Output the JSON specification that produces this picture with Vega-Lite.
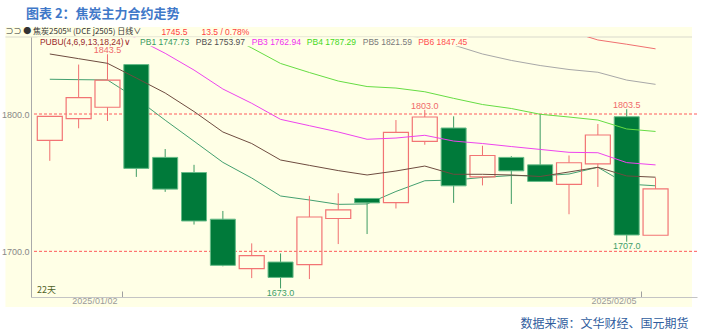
{
  "$schema": "https://vega.github.io/schema/vega-lite/v6.json",
  "width": 666,
  "height": 260,
  "autosize": {"type": "none"},
  "padding": {"left": 31, "top": 37, "right": 6, "bottom": 36},
  "background": "#FFFFFF",
  "title": {"text": "图表 2：焦炭主力合约走势", "anchor": "start", "frame": "group", "dx": -5, "offset": 6, "font": "Noto Sans CJK SC", "fontSize": 13, "fontWeight": "bold", "color": "#3F78C8"},
  "datasets": {
    "candles": [
      {"d": "2024-12-27", "i": 1, "o": 1780.8, "h": 1798.3, "l": 1765.9, "c": 1798.3},
      {"d": "2024-12-30", "i": 2, "o": 1796.6, "h": 1836.0, "l": 1789.6, "c": 1811.9},
      {"d": "2024-12-31", "i": 3, "o": 1804.9, "h": 1843.5, "l": 1794.9, "c": 1824.6},
      {"d": "2025-01-02", "i": 4, "o": 1836.0, "h": 1836.0, "l": 1754.2, "c": 1760.4},
      {"d": "2025-01-03", "i": 5, "o": 1768.4, "h": 1774.5, "l": 1743.3, "c": 1745.3},
      {"d": "2025-01-06", "i": 6, "o": 1757.4, "h": 1763.0, "l": 1719.5, "c": 1722.1},
      {"d": "2025-01-07", "i": 7, "o": 1723.4, "h": 1729.4, "l": 1689.1, "c": 1689.8},
      {"d": "2025-01-08", "i": 8, "o": 1687.4, "h": 1705.8, "l": 1680.5, "c": 1696.9},
      {"d": "2025-01-09", "i": 9, "o": 1692.2, "h": 1698.5, "l": 1673.0, "c": 1681.0},
      {"d": "2025-01-10", "i": 10, "o": 1690.3, "h": 1740.4, "l": 1679.8, "c": 1725.0},
      {"d": "2025-01-13", "i": 11, "o": 1723.9, "h": 1742.3, "l": 1705.3, "c": 1730.2},
      {"d": "2025-01-14", "i": 12, "o": 1738.5, "h": 1738.5, "l": 1712.6, "c": 1735.3},
      {"d": "2025-01-15", "i": 13, "o": 1735.5, "h": 1795.6, "l": 1731.2, "c": 1786.6},
      {"d": "2025-01-16", "i": 14, "o": 1780.1, "h": 1803.0, "l": 1777.6, "c": 1797.8},
      {"d": "2025-01-17", "i": 15, "o": 1789.8, "h": 1798.3, "l": 1735.3, "c": 1747.7},
      {"d": "2025-01-20", "i": 16, "o": 1754.2, "h": 1776.9, "l": 1748.0, "c": 1769.8},
      {"d": "2025-01-21", "i": 17, "o": 1768.4, "h": 1769.3, "l": 1734.5, "c": 1758.6},
      {"d": "2025-01-22", "i": 18, "o": 1763.0, "h": 1800.0, "l": 1750.9, "c": 1750.9},
      {"d": "2025-01-23", "i": 19, "o": 1748.7, "h": 1769.8, "l": 1727.0, "c": 1764.5},
      {"d": "2025-01-24", "i": 20, "o": 1763.7, "h": 1792.7, "l": 1746.9, "c": 1784.7},
      {"d": "2025-01-27", "i": 21, "o": 1798.0, "h": 1803.5, "l": 1707.0, "c": 1711.9},
      {"d": "2025-02-05", "i": 22, "o": 1711.7, "h": 1753.5, "l": 1711.7, "c": 1745.5}
    ],
    "pubu": [
      {"s": "PB1", "i": 1, "v": 1825.3}, {"s": "PB1", "i": 2, "v": 1825.0}, {"s": "PB1", "i": 3, "v": 1824.8}, {"s": "PB1", "i": 4, "v": 1811.4}, {"s": "PB1", "i": 5, "v": 1795.5}, {"s": "PB1", "i": 6, "v": 1780.2}, {"s": "PB1", "i": 7, "v": 1764.8}, {"s": "PB1", "i": 8, "v": 1753.4}, {"s": "PB1", "i": 9, "v": 1740.3}, {"s": "PB1", "i": 10, "v": 1737.4}, {"s": "PB1", "i": 11, "v": 1734.2}, {"s": "PB1", "i": 12, "v": 1734.5}, {"s": "PB1", "i": 13, "v": 1743.6}, {"s": "PB1", "i": 14, "v": 1751.4}, {"s": "PB1", "i": 15, "v": 1751.9}, {"s": "PB1", "i": 16, "v": 1753.8}, {"s": "PB1", "i": 17, "v": 1755.2}, {"s": "PB1", "i": 18, "v": 1754.9}, {"s": "PB1", "i": 19, "v": 1756.3}, {"s": "PB1", "i": 20, "v": 1761.2}, {"s": "PB1", "i": 21, "v": 1749.0}, {"s": "PB1", "i": 22, "v": 1747.73},
      {"s": "PB2", "i": 1, "v": 1843.7}, {"s": "PB2", "i": 2, "v": 1840.3}, {"s": "PB2", "i": 3, "v": 1836.9}, {"s": "PB2", "i": 4, "v": 1826.2}, {"s": "PB2", "i": 5, "v": 1815.3}, {"s": "PB2", "i": 6, "v": 1801.8}, {"s": "PB2", "i": 7, "v": 1786.9}, {"s": "PB2", "i": 8, "v": 1778.5}, {"s": "PB2", "i": 9, "v": 1766.5}, {"s": "PB2", "i": 10, "v": 1762.6}, {"s": "PB2", "i": 11, "v": 1758.8}, {"s": "PB2", "i": 12, "v": 1755.6}, {"s": "PB2", "i": 13, "v": 1758.5}, {"s": "PB2", "i": 14, "v": 1762.1}, {"s": "PB2", "i": 15, "v": 1756.1}, {"s": "PB2", "i": 16, "v": 1756.1}, {"s": "PB2", "i": 17, "v": 1755.6}, {"s": "PB2", "i": 18, "v": 1754.5}, {"s": "PB2", "i": 19, "v": 1757.8}, {"s": "PB2", "i": 20, "v": 1761.2}, {"s": "PB2", "i": 21, "v": 1754.9}, {"s": "PB2", "i": 22, "v": 1753.97},
      {"s": "PB3", "i": 1, "v": 1885.9}, {"s": "PB3", "i": 2, "v": 1875.7}, {"s": "PB3", "i": 3, "v": 1865.5}, {"s": "PB3", "i": 4, "v": 1855.0}, {"s": "PB3", "i": 5, "v": 1844.2}, {"s": "PB3", "i": 6, "v": 1832.0}, {"s": "PB3", "i": 7, "v": 1818.2}, {"s": "PB3", "i": 8, "v": 1807.8}, {"s": "PB3", "i": 9, "v": 1796.1}, {"s": "PB3", "i": 10, "v": 1791.5}, {"s": "PB3", "i": 11, "v": 1786.9}, {"s": "PB3", "i": 12, "v": 1781.6}, {"s": "PB3", "i": 13, "v": 1782.5}, {"s": "PB3", "i": 14, "v": 1784.5}, {"s": "PB3", "i": 15, "v": 1780.3}, {"s": "PB3", "i": 16, "v": 1778.5}, {"s": "PB3", "i": 17, "v": 1776.3}, {"s": "PB3", "i": 18, "v": 1774.2}, {"s": "PB3", "i": 19, "v": 1772.1}, {"s": "PB3", "i": 20, "v": 1771.8}, {"s": "PB3", "i": 21, "v": 1764.6}, {"s": "PB3", "i": 22, "v": 1762.94},
      {"s": "PB4", "i": 1, "v": 1919.4}, {"s": "PB4", "i": 2, "v": 1910.7}, {"s": "PB4", "i": 3, "v": 1901.2}, {"s": "PB4", "i": 4, "v": 1891.7}, {"s": "PB4", "i": 5, "v": 1880.8}, {"s": "PB4", "i": 6, "v": 1869.9}, {"s": "PB4", "i": 7, "v": 1858.9}, {"s": "PB4", "i": 8, "v": 1848.1}, {"s": "PB4", "i": 9, "v": 1836.8}, {"s": "PB4", "i": 10, "v": 1830.2}, {"s": "PB4", "i": 11, "v": 1824.0}, {"s": "PB4", "i": 12, "v": 1820.0}, {"s": "PB4", "i": 13, "v": 1818.9}, {"s": "PB4", "i": 14, "v": 1816.2}, {"s": "PB4", "i": 15, "v": 1811.4}, {"s": "PB4", "i": 16, "v": 1806.9}, {"s": "PB4", "i": 17, "v": 1804.0}, {"s": "PB4", "i": 18, "v": 1799.8}, {"s": "PB4", "i": 19, "v": 1797.8}, {"s": "PB4", "i": 20, "v": 1795.6}, {"s": "PB4", "i": 21, "v": 1789.1}, {"s": "PB4", "i": 22, "v": 1787.29},
      {"s": "PB5", "i": 1, "v": 1935.4}, {"s": "PB5", "i": 2, "v": 1930.3}, {"s": "PB5", "i": 3, "v": 1924.5}, {"s": "PB5", "i": 4, "v": 1918.0}, {"s": "PB5", "i": 5, "v": 1910.0}, {"s": "PB5", "i": 6, "v": 1901.9}, {"s": "PB5", "i": 7, "v": 1893.9}, {"s": "PB5", "i": 8, "v": 1886.7}, {"s": "PB5", "i": 9, "v": 1880.1}, {"s": "PB5", "i": 10, "v": 1874.3}, {"s": "PB5", "i": 11, "v": 1869.2}, {"s": "PB5", "i": 12, "v": 1864.1}, {"s": "PB5", "i": 13, "v": 1859.0}, {"s": "PB5", "i": 14, "v": 1854.6}, {"s": "PB5", "i": 15, "v": 1850.2}, {"s": "PB5", "i": 16, "v": 1843.7}, {"s": "PB5", "i": 17, "v": 1839.0}, {"s": "PB5", "i": 18, "v": 1835.3}, {"s": "PB5", "i": 19, "v": 1832.4}, {"s": "PB5", "i": 20, "v": 1830.4}, {"s": "PB5", "i": 21, "v": 1824.7}, {"s": "PB5", "i": 22, "v": 1821.59},
      {"s": "PB6", "i": 1, "v": 1941.3}, {"s": "PB6", "i": 2, "v": 1937.6}, {"s": "PB6", "i": 3, "v": 1934.0}, {"s": "PB6", "i": 4, "v": 1929.6}, {"s": "PB6", "i": 5, "v": 1923.8}, {"s": "PB6", "i": 6, "v": 1918.0}, {"s": "PB6", "i": 7, "v": 1912.2}, {"s": "PB6", "i": 8, "v": 1906.3}, {"s": "PB6", "i": 9, "v": 1901.2}, {"s": "PB6", "i": 10, "v": 1896.1}, {"s": "PB6", "i": 11, "v": 1891.7}, {"s": "PB6", "i": 12, "v": 1887.4}, {"s": "PB6", "i": 13, "v": 1883.0}, {"s": "PB6", "i": 14, "v": 1878.6}, {"s": "PB6", "i": 15, "v": 1874.3}, {"s": "PB6", "i": 16, "v": 1869.9}, {"s": "PB6", "i": 17, "v": 1866.2}, {"s": "PB6", "i": 18, "v": 1863.2}, {"s": "PB6", "i": 19, "v": 1860.4}, {"s": "PB6", "i": 20, "v": 1853.9}, {"s": "PB6", "i": 21, "v": 1850.8}, {"s": "PB6", "i": 22, "v": 1847.45}
    ]
  },
  "encoding": {
    "x": {"type": "quantitative", "scale": {"domain": [0.522, 23.2635], "nice": false, "zero": false},
      "axis": {"values": [3.5, 21.5], "labelExpr": "datum.value < 10 ? '2025/01/02' : '2025/02/05'", "labelAlign": "right", "labelOffset": -5, "labelBaseline": "top", "labelPadding": 5, "labelFontSize": 9, "labelColor": "#9A9A9A", "labelFont": "Liberation Sans", "labelFlush": false, "labelOverlap": false, "tickSize": -6, "tickColor": "#A0A0A0", "domainColor": "#C4C4C4", "grid": false, "zindex": 1,
        "title": "数据来源：文华财经、国元期货", "titleFont": "Noto Sans CJK SC", "titleFontSize": 12, "titleFontWeight": "normal", "titleColor": "#2F5D9E", "titleX": 657, "titleY": 26, "titleAlign": "right", "titleBaseline": "middle", "titleAnchor": "end"}},
    "y": {"type": "quantitative", "scale": {"domain": [1666.75, 1856.07], "nice": false, "zero": false},
      "axis": {"values": [1700, 1800], "format": ".1f", "labelFontSize": 9, "labelColor": "#888888", "labelFont": "Liberation Sans", "ticks": false, "labelPadding": 2, "domainColor": "#AAAAAA", "grid": false, "title": null, "zindex": 1}}
  },
  "layer": [
    {"data": {"values": [{}]}, "mark": {"type": "rect", "fill": "#FFFFE6", "clip": false},
      "encoding": {"x": {"datum": -0.5366}, "x2": {"datum": 23.2635}, "y": {"datum": 1659.46}, "y2": {"datum": 1863.35}}},
    {"data": {"values": [{}]}, "mark": {"type": "rule", "stroke": "#D9D9CC", "strokeWidth": 1, "clip": false},
      "encoding": {"x": {"datum": -0.5366}, "x2": {"datum": 23.2635}, "y": {"datum": 1856.07}}},
    {"data": {"values": [{}]}, "mark": {"type": "rule", "stroke": "#FF5A5A", "strokeWidth": 1, "strokeDash": [3, 2]},
      "encoding": {"y": {"datum": 1800}}},
    {"data": {"values": [{}]}, "mark": {"type": "rule", "stroke": "#FF5A5A", "strokeWidth": 1, "strokeDash": [3, 2]},
      "encoding": {"y": {"datum": 1700}}},
    {"data": {"name": "pubu"}, "transform": [{"filter": "datum.s === 'PB1'"}],
      "mark": {"type": "line", "stroke": "#44A070", "strokeWidth": 1, "clip": true},
      "encoding": {"x": {"field": "i"}, "y": {"field": "v"}}},
    {"data": {"name": "candles"}, "transform": [{"filter": "datum.c < datum.o"}],
      "mark": {"type": "rule", "stroke": "#3E9B62", "strokeWidth": 1},
      "encoding": {"x": {"field": "i"}, "y": {"field": "h"}, "y2": {"field": "l"}}},
    {"data": {"name": "candles"}, "transform": [{"filter": "datum.c >= datum.o"}],
      "mark": {"type": "rule", "stroke": "#F07070", "strokeWidth": 1},
      "encoding": {"x": {"field": "i"}, "y": {"field": "h"}, "y2": {"field": "c"}}},
    {"data": {"name": "candles"}, "transform": [{"filter": "datum.c >= datum.o"}],
      "mark": {"type": "rule", "stroke": "#F07070", "strokeWidth": 1},
      "encoding": {"x": {"field": "i"}, "y": {"field": "o"}, "y2": {"field": "l"}}},
    {"data": {"name": "candles"}, "transform": [{"filter": "datum.c < datum.o"}],
      "mark": {"type": "bar", "orient": "vertical", "size": 25, "fill": "#007A3A", "stroke": "#66BB88", "strokeWidth": 1},
      "encoding": {"x": {"field": "i"}, "y": {"field": "o"}, "y2": {"field": "c"}}},
    {"data": {"name": "candles"}, "transform": [{"filter": "datum.c >= datum.o"}],
      "mark": {"type": "bar", "orient": "vertical", "size": 25, "fill": "transparent", "stroke": "#F27474", "strokeWidth": 1.2},
      "encoding": {"x": {"field": "i"}, "y": {"field": "o"}, "y2": {"field": "c"}}},
    {"data": {"name": "pubu"}, "transform": [{"filter": "datum.s !== 'PB1'"}],
      "mark": {"type": "line", "strokeWidth": 1, "clip": true},
      "encoding": {"x": {"field": "i"}, "y": {"field": "v"},
        "color": {"field": "s", "type": "nominal", "legend": null,
          "scale": {"domain": ["PB2", "PB3", "PB4", "PB5", "PB6"], "range": ["#6E4C40", "#EE44EE", "#66DD44", "#A8A8A8", "#F07070"]}}}},
    {"data": {"name": "candles"}, "transform": [{"filter": {"field": "i", "oneOf": [3, 14, 21]}}],
      "mark": {"type": "text", "font": "Liberation Sans", "fontSize": 9, "fill": "#F06A6A", "baseline": "alphabetic", "dy": -1, "clip": false},
      "encoding": {"x": {"field": "i"}, "y": {"field": "h"}, "text": {"field": "h", "format": ".1f"}}},
    {"data": {"name": "candles"}, "transform": [{"filter": {"field": "i", "oneOf": [9, 21]}}],
      "mark": {"type": "text", "font": "Liberation Sans", "fontSize": 9, "fill": "#3E9E6A", "baseline": "top", "dy": 0.5, "clip": false},
      "encoding": {"x": {"field": "i"}, "y": {"field": "l"}, "text": {"field": "l", "format": ".1f"}}},
    {"data": {"values": [{}]}, "mark": {"type": "rect", "fill": "#FFFFE6", "clip": false},
      "encoding": {"x": {"datum": 0.57}, "x2": {"datum": 15.512}, "y": {"datum": 1849.3}, "y2": {"datum": 1855.8}}},
    {"data": {"values": [{}]}, "mark": {"type": "text", "font": "Liberation Sans", "fontSize": 8.5, "fill": "#9A2A2A", "align": "left", "baseline": "middle"},
      "encoding": {"x": {"datum": 0.659}, "y": {"datum": 1852.79}, "text": {"value": "PUBU(4,6,9,13,18,24)∨"}}},
    {"data": {"values": [{}]}, "mark": {"type": "text", "font": "Liberation Sans", "fontSize": 8.5, "fill": "#3A9A62", "align": "left", "baseline": "middle"},
      "encoding": {"x": {"datum": 4.131}, "y": {"datum": 1852.79}, "text": {"value": "PB1 1747.73"}}},
    {"data": {"values": [{}]}, "mark": {"type": "text", "font": "Liberation Sans", "fontSize": 8.5, "fill": "#505050", "align": "left", "baseline": "middle"},
      "encoding": {"x": {"datum": 6.064}, "y": {"datum": 1852.79}, "text": {"value": "PB2 1753.97"}}},
    {"data": {"values": [{}]}, "mark": {"type": "text", "font": "Liberation Sans", "fontSize": 8.5, "fill": "#F030F0", "align": "left", "baseline": "middle"},
      "encoding": {"x": {"datum": 8.0}, "y": {"datum": 1852.79}, "text": {"value": "PB3 1762.94"}}},
    {"data": {"values": [{}]}, "mark": {"type": "text", "font": "Liberation Sans", "fontSize": 8.5, "fill": "#44D822", "align": "left", "baseline": "middle"},
      "encoding": {"x": {"datum": 9.912}, "y": {"datum": 1852.79}, "text": {"value": "PB4 1787.29"}}},
    {"data": {"values": [{}]}, "mark": {"type": "text", "font": "Liberation Sans", "fontSize": 8.5, "fill": "#7A7A7A", "align": "left", "baseline": "middle"},
      "encoding": {"x": {"datum": 11.849}, "y": {"datum": 1852.79}, "text": {"value": "PB5 1821.59"}}},
    {"data": {"values": [{}]}, "mark": {"type": "text", "font": "Liberation Sans", "fontSize": 8.5, "fill": "#FF5050", "align": "left", "baseline": "middle"},
      "encoding": {"x": {"datum": 13.771}, "y": {"datum": 1852.79}, "text": {"value": "PB6 1847.45"}}},
    {"data": {"values": [{}]}, "mark": {"type": "text", "font": "Noto Sans CJK SC", "fontSize": 8, "fill": "#333333", "align": "left", "baseline": "middle", "clip": false},
      "encoding": {"x": {"datum": -0.5366}, "y": {"datum": 1860.07}, "text": {"value": "⊃⊃ ● 焦炭2505ᴹ (DCE j2505) 日线∨"}}},
    {"data": {"values": [{}]}, "mark": {"type": "text", "font": "Liberation Sans", "fontSize": 8.5, "fill": "#FF4040", "align": "left", "baseline": "middle", "clip": false},
      "encoding": {"x": {"datum": 4.869}, "y": {"datum": 1860.07}, "text": {"value": "1745.5"}}},
    {"data": {"values": [{}]}, "mark": {"type": "text", "font": "Liberation Sans", "fontSize": 8.5, "fill": "#FF4040", "align": "left", "baseline": "middle", "clip": false},
      "encoding": {"x": {"datum": 6.259}, "y": {"datum": 1860.07}, "text": {"value": "13.5 / 0.78%"}}},
    {"data": {"values": [{}]}, "mark": {"type": "text", "font": "Noto Sans CJK SC", "fontSize": 9, "fill": "#4F6228", "align": "left", "baseline": "alphabetic", "dx": 1, "dy": -4},
      "encoding": {"x": {"datum": 0.522}, "y": {"datum": 1666.75}, "text": {"value": "22天"}}}
  ],
  "config": {"view": {"stroke": null}}
}
